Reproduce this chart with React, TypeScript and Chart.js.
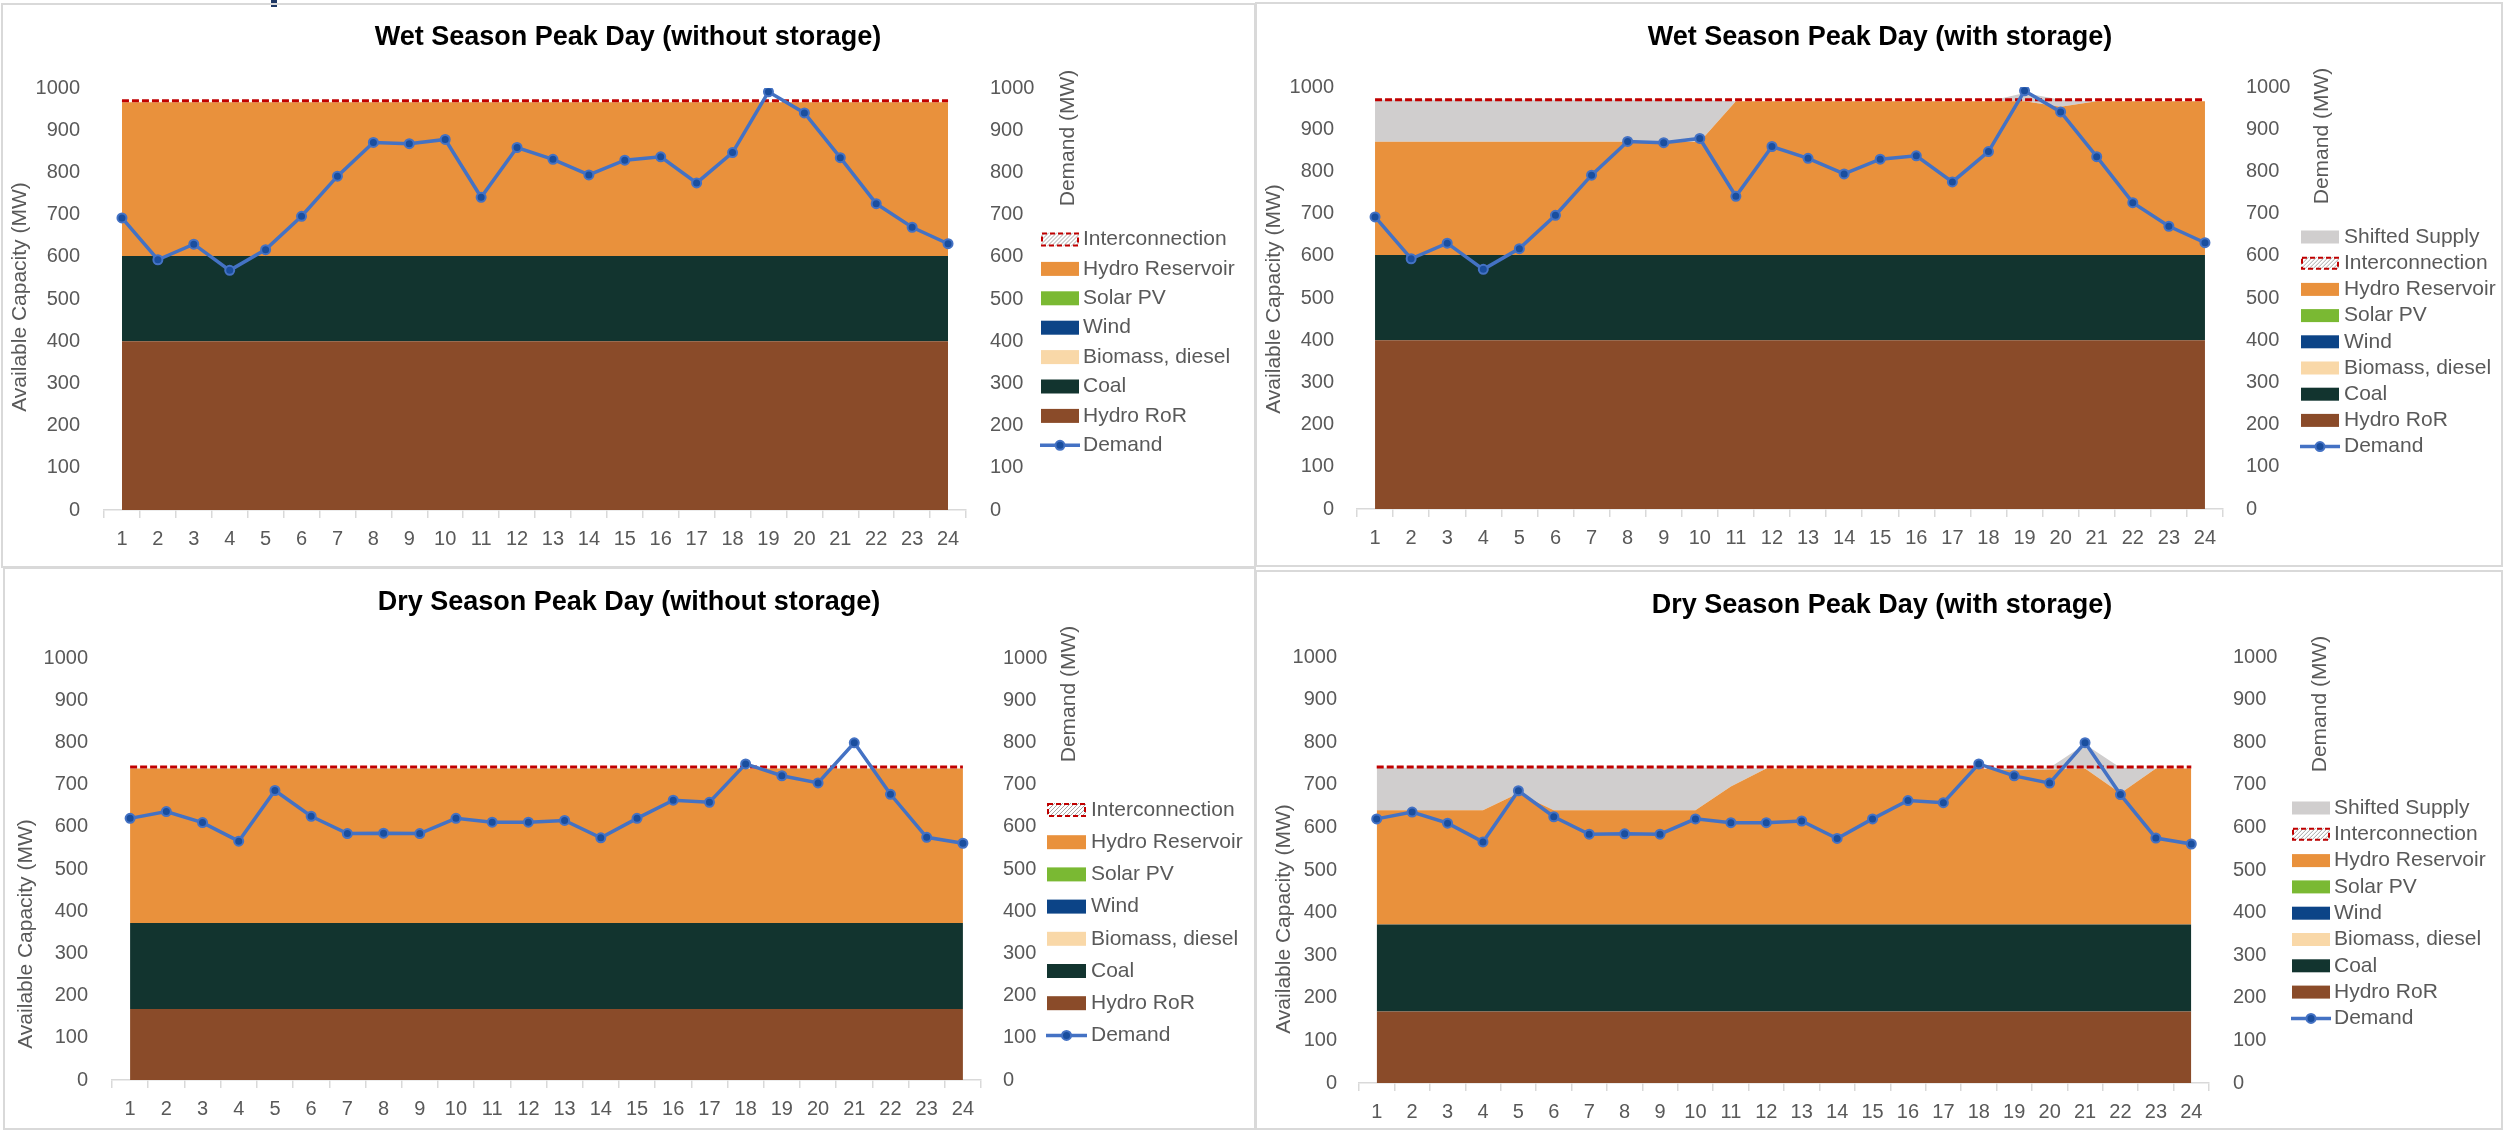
import React, { useEffect, useRef } from 'react';
import { Chart, registerables } from 'chart.js';

Chart.register(...registerables);

const FONT = '"Liberation Sans", Arial, sans-serif';

// ---------------- data ----------------
const HOURS = ['1', '2', '3', '4', '5', '6', '7', '8', '9', '10', '11', '12', '13', '14', '15', '16', '17', '18', '19', '20', '21', '22', '23', '24'];
const Y_TICKS = [0, 100, 200, 300, 400, 500, 600, 700, 800, 900, 1000];

const WET_DEMAND = [692, 593, 630, 568, 617, 696, 791, 871, 868, 878, 741, 859, 831, 794, 829, 837, 775, 847, 991, 941, 835, 726, 670, 631];
const DRY_DEMAND = [620, 636, 610, 566, 686, 625, 584, 585, 584, 620, 611, 611, 615, 574, 620, 663, 658, 749, 721, 704, 799, 677, 575, 561];

const ZERO = [0, 0, 0, 0, 0, 0, 0, 0, 0, 0, 0, 0, 0, 0, 0, 0, 0, 0, 0, 0, 0, 0, 0, 0];

const WET_HYDRO_ROR = [400, 400, 400, 400, 400, 400, 400, 400, 400, 400, 400, 400, 400, 400, 400, 400, 400, 400, 400, 400, 400, 400, 400, 400];
const WET_COAL = [202, 202, 202, 202, 202, 202, 202, 202, 202, 202, 202, 202, 202, 202, 202, 202, 202, 202, 202, 202, 202, 202, 202, 202];
const WET_HYDRO_RES = [364, 364, 364, 364, 364, 364, 364, 364, 364, 364, 364, 364, 364, 364, 364, 364, 364, 364, 364, 364, 364, 364, 364, 364];
const WET_HYDRO_RES_STORAGE = [268, 268, 268, 268, 268, 268, 268, 268, 268, 268, 364, 364, 364, 364, 364, 364, 364, 364, 364, 351, 364, 364, 364, 364];
const WET_SHIFTED = [100, 100, 100, 100, 100, 100, 100, 100, 100, 100, 0, 0, 0, 0, 0, 0, 0, 0, 20, 17, 0, 0, 0, 0];
const WET_INTERCONNECTION = [970, 970, 970, 970, 970, 970, 970, 970, 970, 970, 970, 970, 970, 970, 970, 970, 970, 970, 970, 970, 970, 970, 970, 970];

const DRY_HYDRO_ROR = [168, 168, 168, 168, 168, 168, 168, 168, 168, 168, 168, 168, 168, 168, 168, 168, 168, 168, 168, 168, 168, 168, 168, 168];
const DRY_COAL = [204, 204, 204, 204, 204, 204, 204, 204, 204, 204, 204, 204, 204, 204, 204, 204, 204, 204, 204, 204, 204, 204, 204, 204];
const DRY_HYDRO_RES = [366, 366, 366, 366, 366, 366, 366, 366, 366, 366, 366, 366, 366, 366, 366, 366, 366, 366, 366, 366, 366, 366, 366, 366];
const DRY_HYDRO_RES_STORAGE = [268, 268, 268, 268, 308, 268, 268, 268, 268, 268, 324, 366, 366, 366, 366, 366, 366, 366, 362, 364, 366, 308, 366, 366];
const DRY_SHIFTED = [100, 100, 100, 100, 60, 100, 100, 100, 100, 100, 44, 0, 0, 0, 0, 0, 0, 0, 6, 4, 57, 60, 0, 0];
const DRY_INTERCONNECTION = [742, 742, 742, 742, 742, 742, 742, 742, 742, 742, 742, 742, 742, 742, 742, 742, 742, 742, 742, 742, 742, 742, 742, 742];

const LEGEND_BASE = ['Interconnection', 'Hydro Reservoir', 'Solar PV', 'Wind', 'Biomass, diesel', 'Coal', 'Hydro RoR', 'Demand'];
const LEGEND_STORAGE = ['Shifted Supply', 'Interconnection', 'Hydro Reservoir', 'Solar PV', 'Wind', 'Biomass, diesel', 'Coal', 'Hydro RoR', 'Demand'];

// ---------------- styles ----------------
const COLORS: Record<string, string> = {
  'Shifted Supply': '#D0CECE',
  'Hydro Reservoir': '#E9913C',
  'Solar PV': '#7AB933',
  'Wind': '#0C4487',
  'Biomass, diesel': '#F9D8A8',
  'Coal': '#12342F',
  'Hydro RoR': '#8A4B29',
  'Interconnection': '#C00000',
  'Demand': '#4472C4',
};
const TEXT = '#595959';
const AXIS = '#D9D9D9';

type Box = { x: number; y: number; w: number; h: number };
type PanelCfg = {
  title: string;
  canvas: Box;
  border: Box;
  area: { l: number; r: number; t: number; b: number };
  leftPad: number;
  rightPad: number;
  titlePos: [number, number];
  leftTitle: [number, number];
  rightTitle: [number, number];
  legend: { sw: number; tx: number; y0: number; step: number; swW: number; swH: number };
  legendItems: string[];
  demand: number[];
  ror: number[];
  coal: number[];
  hr: number[];
  shifted: number[] | null;
  ic: number[];
};

const PANELS: PanelCfg[] = [
  {
    title: 'Wet Season Peak Day (without storage)',
    canvas: { x: 2, y: 4, w: 1252, h: 562 },
    border: { x: 1, y: 3, w: 1255, h: 565 },
    area: { l: 104, r: 966, t: 88, b: 510 },
    leftPad: 24, rightPad: 24,
    titlePos: [628, 38], leftTitle: [20, 297], rightTitle: [1068, 138],
    legend: { sw: 1041, tx: 1083, y0: 239.5, step: 29.4, swW: 38, swH: 14 },
    legendItems: LEGEND_BASE,
    demand: WET_DEMAND, ror: WET_HYDRO_ROR, coal: WET_COAL, hr: WET_HYDRO_RES, shifted: null, ic: WET_INTERCONNECTION,
  },
  {
    title: 'Wet Season Peak Day (with storage)',
    canvas: { x: 1257, y: 4, w: 1243, h: 562 },
    border: { x: 1255, y: 2, w: 1248, h: 565 },
    area: { l: 1357, r: 2223, t: 87, b: 509 },
    leftPad: 23, rightPad: 23,
    titlePos: [1880, 38], leftTitle: [1274, 299], rightTitle: [2322, 136],
    legend: { sw: 2301, tx: 2344, y0: 237, step: 26.2, swW: 38, swH: 13 },
    legendItems: LEGEND_STORAGE,
    demand: WET_DEMAND, ror: WET_HYDRO_ROR, coal: WET_COAL, hr: WET_HYDRO_RES_STORAGE, shifted: WET_SHIFTED, ic: WET_INTERCONNECTION,
  },
  {
    title: 'Dry Season Peak Day (without storage)',
    canvas: { x: 4, y: 569, w: 1250, h: 559 },
    border: { x: 3, y: 567, w: 1253, h: 563 },
    area: { l: 112, r: 981, t: 658, b: 1080 },
    leftPad: 24, rightPad: 22,
    titlePos: [629, 603], leftTitle: [26, 934], rightTitle: [1069, 694],
    legend: { sw: 1047, tx: 1091, y0: 810, step: 32.2, swW: 39, swH: 14 },
    legendItems: LEGEND_BASE,
    demand: DRY_DEMAND, ror: DRY_HYDRO_ROR, coal: DRY_COAL, hr: DRY_HYDRO_RES, shifted: null, ic: DRY_INTERCONNECTION,
  },
  {
    title: 'Dry Season Peak Day (with storage)',
    canvas: { x: 1257, y: 572, w: 1243, h: 556 },
    border: { x: 1255, y: 570, w: 1248, h: 560 },
    area: { l: 1359, r: 2209, t: 657, b: 1083 },
    leftPad: 22, rightPad: 24,
    titlePos: [1882, 606], leftTitle: [1284, 919], rightTitle: [2320, 704],
    legend: { sw: 2292, tx: 2334, y0: 808, step: 26.3, swW: 38, swH: 13 },
    legendItems: LEGEND_STORAGE,
    demand: DRY_DEMAND, ror: DRY_HYDRO_ROR, coal: DRY_COAL, hr: DRY_HYDRO_RES_STORAGE, shifted: DRY_SHIFTED, ic: DRY_INTERCONNECTION,
  },
];

function areaSet(label: string, data: number[]) {
  return {
    label,
    data,
    yAxisID: 'y',
    backgroundColor: COLORS[label],
    borderColor: 'rgba(0,0,0,0)',
    borderWidth: 0,
    pointRadius: 0,
    pointHoverRadius: 0,
    fill: 'stack',
    tension: 0,
  };
}

function Panel({ cfg }: { cfg: PanelCfg }) {
  const ref = useRef<HTMLCanvasElement>(null);

  useEffect(() => {
    const canvas = ref.current!;
    const { canvas: box, area } = cfg;
    const ox = box.x;
    const oy = box.y;

    const datasets: any[] = [
      {
        label: 'Demand',
        data: cfg.demand,
        yAxisID: 'y1',
        borderColor: COLORS['Demand'],
        borderWidth: 3.5,
        pointRadius: 4.5,
        pointHoverRadius: 4.5,
        pointBackgroundColor: '#1A4E9E',
        pointBorderColor: '#4472C4',
        pointBorderWidth: 2,
        fill: false,
        tension: 0,
      },
      {
        label: 'Interconnection',
        data: cfg.ic,
        yAxisID: 'y2',
        borderColor: COLORS['Interconnection'],
        borderWidth: 3,
        borderDash: [7, 3],
        pointRadius: 0,
        pointHoverRadius: 0,
        fill: false,
        tension: 0,
      },
      areaSet('Hydro RoR', cfg.ror),
      areaSet('Coal', cfg.coal),
      areaSet('Biomass, diesel', ZERO),
      areaSet('Wind', ZERO),
      areaSet('Solar PV', ZERO),
      areaSet('Hydro Reservoir', cfg.hr),
    ];
    if (cfg.shifted) datasets.push(areaSet('Shifted Supply', cfg.shifted));

    const textPlugin = {
      id: 'panelText',
      afterDraw(chart: any) {
        const ctx: CanvasRenderingContext2D = chart.ctx;
        ctx.save();
        // title
        ctx.fillStyle = '#000000';
        ctx.font = `bold 27px ${FONT}`;
        ctx.textAlign = 'center';
        ctx.textBaseline = 'middle';
        ctx.fillText(cfg.title, cfg.titlePos[0] - ox, cfg.titlePos[1] - oy);

        // axis titles
        ctx.fillStyle = TEXT;
        ctx.font = `21px ${FONT}`;
        ctx.save();
        ctx.translate(cfg.leftTitle[0] - ox, cfg.leftTitle[1] - oy);
        ctx.rotate(-Math.PI / 2);
        ctx.fillText('Available Capacity (MW)', 0, 0);
        ctx.restore();
        ctx.save();
        ctx.translate(cfg.rightTitle[0] - ox, cfg.rightTitle[1] - oy);
        ctx.rotate(-Math.PI / 2);
        ctx.fillText('Demand (MW)', 0, 0);
        ctx.restore();

        // legend
        const lg = cfg.legend;
        cfg.legendItems.forEach((name, i) => {
          const cy = lg.y0 + i * lg.step - oy;
          const sx = lg.sw - ox;
          const top = cy - lg.swH / 2;
          if (name === 'Demand') {
            ctx.strokeStyle = COLORS['Demand'];
            ctx.lineWidth = 3.5;
            ctx.setLineDash([]);
            ctx.beginPath();
            ctx.moveTo(sx - 1, cy);
            ctx.lineTo(sx + lg.swW + 1, cy);
            ctx.stroke();
            ctx.beginPath();
            ctx.arc(sx + lg.swW / 2, cy, 4.5, 0, Math.PI * 2);
            ctx.fillStyle = '#1A4E9E';
            ctx.fill();
            ctx.lineWidth = 2;
            ctx.strokeStyle = '#4472C4';
            ctx.stroke();
          } else if (name === 'Interconnection') {
            ctx.fillStyle = '#FFFFFF';
            ctx.fillRect(sx, top, lg.swW, lg.swH);
            ctx.save();
            ctx.beginPath();
            ctx.rect(sx, top, lg.swW, lg.swH);
            ctx.clip();
            ctx.strokeStyle = '#A6A6A6';
            ctx.lineWidth = 1;
            for (let k = -lg.swH; k < lg.swW + lg.swH; k += 4) {
              ctx.beginPath();
              ctx.moveTo(sx + k, top + lg.swH);
              ctx.lineTo(sx + k + lg.swH, top);
              ctx.stroke();
            }
            ctx.restore();
            ctx.strokeStyle = COLORS['Interconnection'];
            ctx.lineWidth = 2;
            ctx.setLineDash([5, 3]);
            ctx.strokeRect(sx + 1, top + 1, lg.swW - 2, lg.swH - 2);
            ctx.setLineDash([]);
          } else {
            ctx.fillStyle = COLORS[name];
            ctx.fillRect(sx, top, lg.swW, lg.swH);
          }
          ctx.fillStyle = TEXT;
          ctx.font = `21px ${FONT}`;
          ctx.textAlign = 'left';
          ctx.textBaseline = 'middle';
          ctx.fillText(name, lg.tx - ox, cy);
        });
        ctx.restore();
      },
    };

    const tickFont = { family: FONT, size: 20 };
    const plain = (v: any) => String(v);

    const chart = new Chart(canvas, {
      type: 'line',
      data: { labels: HOURS, datasets },
      options: {
        animation: false,
        responsive: false,
        devicePixelRatio: 1,
        events: [],
        layout: { padding: { top: area.t - oy, left: 0, right: 0, bottom: 0 } },
        plugins: {
          legend: { display: false },
          title: { display: false },
          tooltip: { enabled: false },
        },
        scales: {
          x: {
            type: 'category',
            offset: true,
            grid: {
              display: true,
              offset: true,
              drawOnChartArea: false,
              drawTicks: true,
              tickLength: 8,
              color: AXIS,
              lineWidth: 1.5,
            },
            border: { display: true, color: AXIS, width: 1.5 },
            ticks: { color: TEXT, font: tickFont, padding: 9, maxRotation: 0, autoSkip: false },
            afterFit: (s: any) => { s.height = box.h - (area.b - oy); },
          },
          y: {
            type: 'linear',
            position: 'left',
            stacked: true,
            min: 0,
            max: 1000,
            grid: { display: false, drawTicks: false },
            border: { display: false },
            afterBuildTicks: (s: any) => { s.ticks = Y_TICKS.map((v) => ({ value: v })); },
            ticks: { color: TEXT, font: tickFont, padding: cfg.leftPad, callback: plain },
            afterFit: (s: any) => { s.width = area.l - ox; },
          },
          y1: {
            type: 'linear',
            position: 'right',
            min: 0,
            max: 1000,
            grid: { display: false, drawTicks: false },
            border: { display: false },
            afterBuildTicks: (s: any) => { s.ticks = Y_TICKS.map((v) => ({ value: v })); },
            ticks: { color: TEXT, font: tickFont, padding: cfg.rightPad, callback: plain },
            afterFit: (s: any) => { s.width = box.x + box.w - area.r; },
          },
          y2: {
            type: 'linear',
            display: false,
            min: 0,
            max: 1000,
          },
        },
      } as any,
      plugins: [textPlugin],
    });
    return () => chart.destroy();
  }, [cfg]);

  const { canvas: box } = cfg;
  return (
    <canvas
      ref={ref}
      width={box.w}
      height={box.h}
      style={{ position: 'absolute', left: box.x, top: box.y, width: box.w, height: box.h }}
    />
  );
}

export default function App() {
  return (
    <div style={{ position: 'absolute', left: 0, top: 0, width: 2504, height: 1130, background: '#FFFFFF', overflow: 'hidden' }}>
      <div style={{ position: 'absolute', left: 271, top: 0, width: 6, height: 7, background: '#1F3864' }} />
      {PANELS.map((p, i) => (
        <div
          key={'b' + i}
          style={{
            position: 'absolute',
            left: p.border.x,
            top: p.border.y,
            width: p.border.w,
            height: p.border.h,
            boxSizing: 'border-box',
            border: '2px solid #D9D9D9',
          }}
        />
      ))}
      {PANELS.map((p, i) => (
        <Panel key={i} cfg={p} />
      ))}
    </div>
  );
}
